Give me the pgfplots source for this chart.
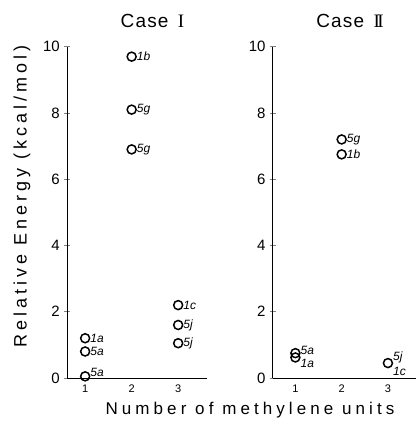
\documentclass[border=0pt]{standalone}
\usepackage{pgfplots}
\pgfplotsset{compat=1.18}
\usepackage{fontspec}
\setmainfont{Liberation Sans}
\newfontfamily\serifI{Liberation Serif}
\begin{document}
\begin{tikzpicture}
\useasboundingbox (0pt,0pt) rectangle (418pt,422pt);
\pgfplotsset{
  panel/.style={
    anchor=south west, scale only axis, height=331.3pt,
    ymin=0, ymax=10,
    axis x line=bottom, axis y line=left,
    axis line style={-, line width=0.8pt},
    ytick={0,2,4,6,8,10}, xtick={1,2,3},
    tick align=center, major tick length=6pt,
    ytick style={line width=0.7pt},
    xtick style={draw=none},
    /pgf/number format/assume math mode=true,
    yticklabel style={font=\fontsize{15}{15}\selectfont, inner sep=1pt, xshift=-3pt},
    xticklabel style={font=\fontsize{11}{11}\selectfont},
    clip=false,
  },
  pts/.style={only marks, mark=o, mark size=4.5pt, mark options={line width=1.5pt, black},
    nodes near coords, point meta=explicit symbolic,
    every node near coord/.append style={font=\fontsize{12}{12}\selectfont\itshape, anchor=west, xshift=4pt, inner sep=0.5pt, black}},
}
% Left panel: Case I
\begin{axis}[panel, at={(67pt,44pt)}, width=140pt, xmin=0.61, xmax=3.62]
\addplot[pts] coordinates {
 (1,1.2) [1a] (1,0.8) [5a]
 (2,9.7) [1b] (2,8.1) [5g] (2,6.9) [5g]
 (3,2.2) [1c] (3,1.6) [5j] (3,1.05) [5j]
};
\addplot[pts, every node near coord/.append style={yshift=4pt}] coordinates {
 (1,0.05) [5a]
};
\end{axis}
% Right panel: Case II
\begin{axis}[panel, at={(272.7pt,44pt)}, width=143pt, xmin=0.51, xmax=3.6]
\addplot[pts] coordinates {
 (2,7.2) [5g] (2,6.75) [1b]
};
\addplot[pts, every node near coord/.append style={yshift=3pt}] coordinates {
 (1,0.75) [5a]
};
\addplot[pts, every node near coord/.append style={yshift=-6pt}] coordinates {
 (1,0.62) [1a]
};
\addplot[pts, every node near coord/.append style={yshift=6pt}] coordinates {
 (3,0.45) [5j]
};
\addplot[pts, mark=none, every node near coord/.append style={yshift=-8pt}] coordinates {
 (3,0.45) [1c]
};
\end{axis}
\node[font=\fontsize{19}{19}\selectfont\addfontfeatures{LetterSpace=6}] at (152.5pt,401pt) {Case\hspace{3pt} {\serifI I}};
\node[font=\fontsize{19}{19}\selectfont\addfontfeatures{LetterSpace=6}] at (350pt,401pt) {Case\hspace{3pt} {\serifI I\kern-2.5pt I}};
\node[font=\fontsize{17}{17}\selectfont\addfontfeatures{LetterSpace=24}] at (250pt,12pt) {Number of methylene units};
\node[rotate=90, font=\fontsize{18}{18}\selectfont\addfontfeatures{LetterSpace=22}] at (22pt,225.5pt) {Relative Energy (kcal/mol)};
\end{tikzpicture}
\end{document}
